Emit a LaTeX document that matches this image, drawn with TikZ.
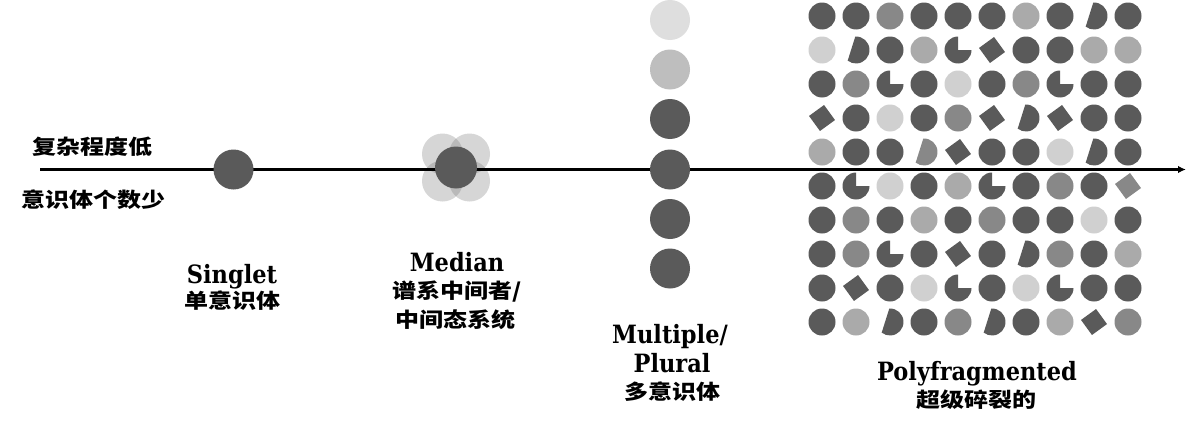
\documentclass[tikz,border=0pt]{standalone}
\usepackage{fontspec}
\usepackage{graphicx}
\setmainfont{DejaVu Serif}
\newfontfamily\cjk{Noto Sans CJK SC}
\usetikzlibrary{arrows.meta}
\definecolor{cK}{HTML}{5A5A5A}
\definecolor{cM}{HTML}{888888}
\definecolor{cA}{HTML}{AAAAAA}
\definecolor{cL}{HTML}{D0D0D0}
\definecolor{cTop}{HTML}{DEDEDE}
\definecolor{cSec}{HTML}{BEBEBE}
\newcommand\zhtext[1]{\scalebox{1.2}[1.02]{\fontsize{20}{22}\cjk\bfseries #1}}
\newcommand\entext[1]{\scalebox{1}[1.12]{\fontsize{22.5}{24}\selectfont\bfseries #1}}
\tikzset{
  lat/.style={inner sep=0pt, anchor=base},
  zh/.style={inner sep=0pt, anchor=center},
  dot/.style={circle, fill=cK, draw=none, inner sep=0pt},
  halo/.style={fill=black!55, opacity=0.29},
  axisline/.style={line width=2.6pt, -{Latex[length=8pt,width=7.5pt]}},
  pics/gc/.style={code={\fill (0,0) circle[radius=13.5];}},
  pics/gd/.style={code={\fill (-93:13.5) arc[start angle=-93,end angle=128,radius=13.5] -- cycle;}},
  pics/gp/.style={code={\fill (0,0) -- (0:13.5) arc[start angle=0,end angle=270,radius=13.5] -- cycle;}},
  pics/gs/.style={code={\fill[rotate=36] (-9.3,-9.3) rectangle (9.3,9.3);}},
}
\begin{document}
\begin{tikzpicture}[x=1pt,y=-1pt]
\fill[white] (0,0) rectangle (1195,431);
\useasboundingbox (0,0) rectangle (1195,431);
% median halo
\foreach \dx/\dy in {-13.5/-13.5, 13.5/-13.5, -13.5/13.5, 13.5/13.5}
  \fill[halo] (456+\dx,167.5+\dy) circle[radius=20.5];
% axis
\coordinate (axstart) at (40,169.5);
\coordinate (axend) at (1186,169.5);
\draw[axisline] (axstart) -- (axend);
% singlet and median
\node[dot, minimum size=40pt] (singlet) at (233.5,169.5) {};
\node[dot, minimum size=42pt] (median) at (456,167.5) {};
% multiple column
\node[dot, minimum size=40pt, fill=cTop] (m1) at (670,20) {};
\node[dot, minimum size=40pt, fill=cSec] (m2) at (670,69.5) {};
\node[dot, minimum size=40pt] (m3) at (670,119) {};
\node[dot, minimum size=40pt] (m4) at (670,169.5) {};
\node[dot, minimum size=40pt] (m5) at (670,219) {};
\node[dot, minimum size=40pt] (m6) at (670,268.5) {};
% polyfragmented grid
\foreach \rowdata [count=\j from 0] in {
  {K/c,K/c,M/c,K/c,K/c,K/c,A/c,K/c,K/d,K/c},
  {L/c,K/d,K/c,A/c,K/p,K/s,K/c,K/c,A/c,A/c},
  {K/c,M/c,K/p,K/c,L/c,K/c,M/c,K/p,K/c,K/c},
  {K/s,K/c,L/c,K/c,M/c,K/s,K/d,K/s,K/c,K/c},
  {A/c,K/c,K/c,M/d,K/s,K/c,K/c,L/c,K/d,K/c},
  {K/c,K/p,L/c,K/c,A/c,K/p,K/c,M/c,K/c,M/s},
  {K/c,M/c,K/c,A/c,K/c,M/c,K/c,K/c,L/c,K/c},
  {K/c,M/c,K/p,K/c,K/s,K/c,K/d,M/c,K/c,A/c},
  {K/c,K/s,K/c,L/c,K/p,K/c,L/c,K/p,K/c,K/c},
  {K/c,A/c,K/d,K/c,M/c,K/d,K/c,A/c,K/s,M/c}} {
  \foreach \cc/\ss [count=\i from 0] in \rowdata {
    \pic[fill=c\cc] at ({822+34*\i},{16+34*\j}) {g\ss};
  }
}
% left labels
\node[zh] (low) at (92.5,147) {\zhtext{复杂程度低}};
\node[zh] (few) at (93,200) {\zhtext{意识体个数少}};
% singlet labels
\node[lat] (singleten) at (232,283) {\entext{Singlet}};
\node[zh] (singletzh) at (232,301) {\zhtext{单意识体}};
% median labels
\node[lat] (medianen) at (457,271) {\entext{Median}};
\node[zh] (medianzha) at (457,292) {\zhtext{谱系中间者/}};
\node[zh] (medianzhb) at (455,320) {\zhtext{中间态系统}};
% multiple labels
\node[lat] (multen) at (670,343) {\entext{Multiple/}};
\node[lat] (pluren) at (672,372) {\entext{Plural}};
\node[zh] (multzh) at (672,392) {\zhtext{多意识体}};
% polyfragmented labels
\node[lat] (polyen) at (977,380) {\entext{Polyfragmented}};
\node[zh] (polyzh) at (976,400) {\zhtext{超级碎裂的}};
\end{tikzpicture}
\end{document}
